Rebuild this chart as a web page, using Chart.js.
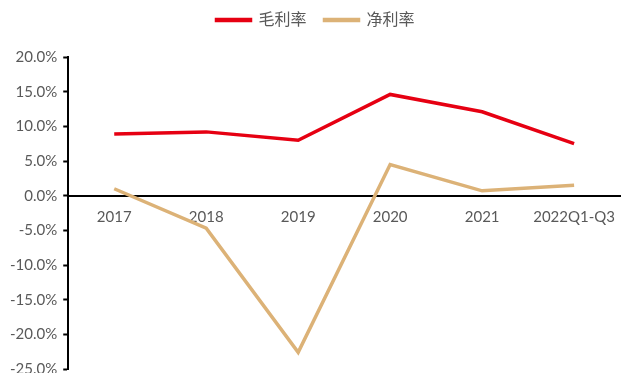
<!DOCTYPE html>
<html>
<head>
<meta charset="utf-8">
<script src="https://cdn.jsdelivr.net/npm/chart.js@4"></script>
<style>
  html, body { margin: 0; padding: 0; background: #fff; overflow: hidden; }
  #wrap { width: 627px; height: 373px; overflow: hidden; }
  #box { width: 627px; height: 384px; position: relative; }
</style>
</head>
<body>
<div id="wrap"><div id="box"><canvas id="marginChart"></canvas></div></div>
<script>
// data (percent)
const years = ['2017', '2018', '2019', '2020', '2021', '2022Q1-Q3'];
const grossMargin = [8.9, 9.2, 8.0, 14.6, 12.1, 7.5];
const netMargin = [1.0, -4.7, -22.6, 4.5, 0.7, 1.5];
const yMin = -25;
const yMax = 20;
const yStep = 5;

const txt = '#595959';
const fontFam = 'Lato, "Noto Sans CJK SC", sans-serif';

// push the plot down a bit under the legend
const legendGap = {
    id: 'legendGap',
    beforeInit(chart) {
        const fit = chart.legend.fit;
        chart.legend.fit = function () {
            fit.bind(chart.legend)();
            this.height += 19;
        };
    }
};

document.addEventListener('DOMContentLoaded', () => {
    const ctx = document.getElementById('marginChart').getContext('2d');

    new Chart(ctx, {
        type: 'line',
        data: {
            labels: years,
            datasets: [
                {
                    label: '毛利率',
                    data: grossMargin,
                    borderColor: '#e60012',
                    backgroundColor: '#e60012',
                    borderWidth: 3.5,
                    pointRadius: 0,
                    tension: 0
                },
                {
                    label: '净利率',
                    data: netMargin,
                    borderColor: '#dcb277',
                    backgroundColor: '#dcb277',
                    borderWidth: 3.5,
                    pointRadius: 0,
                    tension: 0
                }
            ]
        },
        options: {
            responsive: true,
            maintainAspectRatio: false,
            animation: false,
            layout: { padding: { top: -6, right: 0, left: 4, bottom: 0 } },
            plugins: {
                tooltip: { enabled: false },
                legend: {
                    position: 'top',
                    labels: {
                        color: txt,
                        boxWidth: 34,
                        boxHeight: 1,
                        padding: 18,
                        font: { family: fontFam, size: 16 }
                    }
                }
            },
            scales: {
                x: {
                    position: { y: 0 },
                    offset: true,
                    grid: { display: false, drawTicks: false },
                    border: { color: '#000', width: 2 },
                    ticks: {
                        color: txt,
                        padding: 12,
                        maxRotation: 0,
                        font: { family: fontFam, size: 15 }
                    }
                },
                y: {
                    min: yMin,
                    max: yMax,
                    grid: {
                        drawOnChartArea: false,
                        tickLength: 5,
                        tickWidth: 2,
                        color: '#000'
                    },
                    border: { color: '#000', width: 2 },
                    ticks: {
                        stepSize: yStep,
                        color: txt,
                        padding: 6,
                        font: { family: fontFam, size: 15 },
                        callback: v => v.toFixed(1) + '%'
                    }
                }
            }
        },
        plugins: [legendGap]
    });
});
</script>
</body>
</html>
